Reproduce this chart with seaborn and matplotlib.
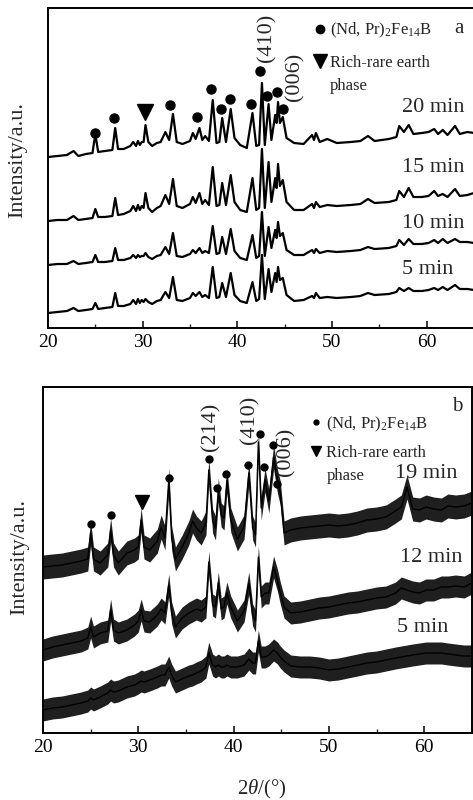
import numpy as np
import pandas as pd
import matplotlib
matplotlib.use("Agg")
import matplotlib.pyplot as plt
from matplotlib.lines import Line2D
from matplotlib.ticker import MultipleLocator
import seaborn as sns

# ---- panel a: XRD patterns, vertices ----
A_X = [20.0, 21.0, 22.0, 22.7, 23.2, 24.0, 24.7, 25.0, 25.3, 26.0, 26.8, 27.1, 27.4, 28.0,
       28.7, 29.0, 29.3, 29.5, 29.7, 29.9, 30.1, 30.3, 30.6, 31.0, 31.5, 31.9, 32.4, 32.8,
       33.2, 33.6, 34.2, 35.0, 35.3, 35.6, 36.0, 36.3, 36.6, 37.0, 37.4, 37.8, 38.1, 38.4,
       38.8, 39.3, 39.7, 40.3, 41.0, 41.6, 42.0, 42.3, 42.6, 42.9, 43.3, 43.6, 44.0, 44.15,
       44.3, 44.5, 44.8, 45.2, 46.0, 47.0, 47.9, 48.1, 48.3, 48.7, 49.5, 50.5, 52.0, 53.0,
       53.8, 54.5, 56.0, 56.8, 57.1, 57.6, 58.1, 58.6, 59.5, 60.2, 60.8, 61.2, 61.7, 62.2,
       63.0, 63.5, 64.3, 65.0]

A_20MIN = [171, 172, 173, 177, 172, 174, 175, 194, 176, 177, 178, 200, 179, 179,
           182, 186, 182, 187, 183, 186, 186, 203, 186, 182, 185, 186, 196, 188,
           214, 186, 184, 187, 195, 189, 200, 188, 192, 187, 228, 185, 186, 210,
           186, 219, 190, 183, 180, 215, 182, 183, 245, 183, 224, 188, 213, 205,
           226, 205, 211, 190, 185, 184, 193, 188, 195, 186, 189, 185, 186, 187,
           192, 187, 189, 191, 202, 196, 203, 194, 195, 196, 199, 194, 198, 193,
           202, 194, 196, 195]
A_15MIN = [107, 108, 108, 112, 108, 109, 110, 119, 111, 111, 112, 130, 113, 114,
           117, 122, 117, 123, 118, 122, 120, 135, 120, 116, 120, 122, 133, 124,
           149, 122, 120, 124, 131, 125, 135, 124, 128, 123, 161, 122, 123, 145,
           123, 153, 126, 118, 116, 150, 118, 120, 179, 120, 166, 126, 150, 140,
           164, 142, 148, 126, 118, 118, 124, 120, 126, 121, 123, 122, 123, 124,
           129, 125, 126, 128, 137, 131, 140, 131, 131, 132, 137, 132, 134, 131,
           139, 132, 133, 135]
A_10MIN = [63, 64, 64, 67, 64, 65, 66, 73, 66, 66, 67, 80, 68, 68,
           70, 73, 70, 73, 71, 72, 72, 75, 71, 69, 72, 73, 81, 74,
           95, 72, 71, 74, 78, 75, 80, 75, 77, 75, 102, 74, 75, 91,
           74, 99, 77, 70, 68, 93, 70, 72, 116, 72, 101, 80, 98, 90,
           106, 92, 95, 78, 73, 73, 78, 75, 79, 75, 77, 76, 77, 78,
           81, 79, 80, 82, 88, 83, 89, 84, 84, 85, 88, 85, 89, 85,
           89, 86, 86, 85]
A_5MIN = [15, 16, 17, 20, 17, 18, 19, 25, 19, 20, 21, 35, 22, 22,
          24, 28, 24, 29, 25, 28, 26, 29, 26, 24, 27, 28, 36, 30,
          51, 28, 27, 30, 35, 32, 36, 31, 33, 30, 61, 30, 31, 45,
          31, 55, 33, 27, 25, 46, 27, 29, 73, 29, 59, 36, 55, 46,
          61, 48, 50, 33, 27, 28, 32, 30, 35, 30, 31, 30, 31, 32,
          35, 33, 34, 36, 40, 37, 40, 37, 37, 38, 40, 38, 41, 38,
          43, 39, 39, 38]
A_LABELS = ["20 min", "15 min", "10 min", "5 min"]
A_LABEL_Y = [220, 161, 105, 58]

A_DOT_X = [25.0, 27.0, 32.9, 35.7, 37.2, 38.3, 39.2, 41.4, 42.4, 43.1, 44.2, 44.8]
A_DOT_Y = [195, 210, 223, 211, 239, 219, 229, 224, 257, 232, 236, 219]
A_TRI_X = [30.2]
A_TRI_Y = [216]
A_HKL = ["(410)", "(006)"]
A_HKL_X = [43.1, 46.1]
A_HKL_Y = [290, 251]

# ---- panel b: noisy patterns (centre line) ----
B_X = [20.0, 21.0, 22.0, 23.0, 24.0, 24.7, 25.0, 25.3, 26.0, 26.8, 27.1, 27.4, 27.9, 28.8,
       29.6, 30.0, 30.3, 30.6, 31.2, 32.0, 32.4, 32.8, 33.2, 33.5, 33.9, 34.6, 35.3, 35.7,
       36.1, 36.6, 37.1, 37.4, 37.8, 38.1, 38.4, 38.7, 39.0, 39.3, 39.7, 40.4, 41.1, 41.6,
       42.0, 42.3, 42.6, 42.9, 43.3, 43.7, 44.2, 44.6, 44.9, 45.3, 46.0, 47.0, 48.0, 49.0,
       50.0, 51.0, 52.0, 53.0, 54.0, 55.0, 56.0, 57.0, 57.6, 58.2, 58.8, 59.5, 60.2, 61.0,
       61.8, 62.5, 63.3, 64.2, 65.0]
B_19MIN = [166, 167, 168, 170, 172, 174, 200, 174, 170, 178, 203, 178, 170, 180,
           183, 186, 213, 186, 183, 192, 206, 195, 253, 195, 174, 186, 200, 212,
           205, 200, 210, 263, 212, 205, 243, 218, 215, 253, 213, 194, 206, 260,
           205, 198, 291, 225, 253, 232, 276, 252, 240, 200, 203, 205, 206, 207,
           208, 207, 208, 210, 213, 214, 216, 222, 226, 246, 224, 223, 226, 224,
           223, 227, 226, 227, 230]
B_12MIN = [83, 86, 88, 90, 92, 95, 106, 96, 100, 102, 123, 103, 100, 103,
           108, 112, 123, 112, 111, 118, 124, 120, 148, 120, 106, 115, 120, 122,
           124, 122, 126, 171, 128, 126, 150, 124, 126, 140, 126, 112, 122, 150,
           118, 112, 176, 136, 140, 140, 166, 153, 140, 126, 120, 121, 123, 125,
           126, 128, 130, 131, 133, 135, 136, 140, 145, 143, 141, 140, 143, 143,
           146, 146, 147, 146, 150]
B_5MIN = [23, 25, 26, 28, 30, 32, 35, 33, 36, 40, 43, 41, 42, 46,
          48, 50, 52, 51, 53, 56, 58, 58, 66, 58, 51, 54, 57, 58,
          60, 62, 66, 80, 68, 66, 68, 66, 66, 68, 66, 66, 68, 74,
          70, 70, 92, 76, 76, 78, 83, 80, 76, 72, 67, 66, 66, 65,
          63, 64, 66, 68, 70, 71, 73, 75, 76, 77, 78, 79, 80, 80,
          80, 79, 78, 77, 77]
B_NOISE = [12, 11, 11]
B_LABELS = ["19 min", "12 min", "5 min"]
B_LABEL_X = [56.9, 57.5, 57.1]
B_LABEL_Y = [259, 176, 105]

B_DOT_X = [25.0, 27.1, 33.2, 37.4, 38.3, 39.2, 41.5, 42.8, 43.2, 44.1, 44.6]
B_DOT_Y = [209, 218, 255, 274, 245, 259, 268, 299, 266, 288, 249]
B_TRI_X = [30.4]
B_TRI_Y = [231]
B_HKL = ["(214)", "(410)", "(006)"]
B_HKL_X = [37.6, 41.7, 45.5]
B_HKL_Y = [306, 313, 281]

PHASE_LABEL = "(Nd, Pr)$_2$Fe$_{14}$B"
RICH_LABELS = ["Rich-rare earth", "phase"]

sns.set_style("ticks")
plt.rcParams["font.family"] = ["Liberation Serif", "DejaVu Serif"]
plt.rcParams["mathtext.fontset"] = "custom"
plt.rcParams["mathtext.rm"] = "Liberation Serif"
plt.rcParams["mathtext.it"] = "Liberation Serif:italic"

fig = plt.figure(figsize=(4.73, 8), dpi=100)
ax_a = fig.add_axes([48 / 473, 0.59, 426 / 473, 0.40])
ax_b = fig.add_axes([43 / 473, 0.08375, 428.8 / 473, 0.4325])


def style_axis(ax, ymax):
    ax.set_xlim(20, 65)
    ax.set_ylim(0, ymax)
    ax.set_yticks([])
    ax.xaxis.set_major_locator(MultipleLocator(10))
    ax.xaxis.set_minor_locator(MultipleLocator(5))
    ax.tick_params(axis="x", which="major", direction="in", length=5, width=1.1,
                   labelsize=14, pad=4, colors="black")
    ax.tick_params(axis="x", which="minor", direction="in", length=3, width=1.0)
    for sp in ax.spines.values():
        sp.set_visible(True)
        sp.set_linewidth(1.4)
        sp.set_color("black")
    ax.set_xlabel("")
    ax.set_ylabel("")


def add_legend(ax, dot_ms, tri_ms, x0, y_dot, y_tri):
    kw = dict(loc="upper left", frameon=False, fontsize=12, handlelength=0.9,
              handletextpad=0.15, labelspacing=0.42, borderpad=0, borderaxespad=0)
    dot = [Line2D([], [], marker="o", ls="none", color="black", ms=dot_ms)]
    leg1 = ax.legend(dot, [PHASE_LABEL], bbox_to_anchor=(x0, y_dot), **kw)
    ax.add_artist(leg1)
    tri = [Line2D([], [], marker="v", ls="none", color="black", ms=tri_ms),
           Line2D([], [], ls="none")]
    ax.legend(tri, RICH_LABELS, bbox_to_anchor=(x0, y_tri), **kw)


# panel a
df_a = pd.DataFrame({"two_theta": A_X * 4,
                     "intensity": A_20MIN + A_15MIN + A_10MIN + A_5MIN,
                     "sample": np.repeat(A_LABELS, len(A_X))})
sns.lineplot(data=df_a, x="two_theta", y="intensity", units="sample", estimator=None,
             sort=False, color="black", lw=1.6, ax=ax_a)
for lab, ly in zip(A_LABELS, A_LABEL_Y):
    ax_a.text(57.4, ly, lab, fontsize=16, ha="left", va="center")
ax_a.plot(A_DOT_X, A_DOT_Y, "o", color="black", ms=6.5, ls="none")
ax_a.plot(A_TRI_X, A_TRI_Y, "v", color="black", ms=11, ls="none")
for t, hx, hy in zip(A_HKL, A_HKL_X, A_HKL_Y):
    ax_a.text(hx, hy, t, rotation=90, fontsize=16, ha="center", va="center")
ax_a.text(0.965, 0.937, "a", transform=ax_a.transAxes, fontsize=15, ha="center", va="center")
add_legend(ax_a, 6, 10, 0.62, 0.959, 0.853)
style_axis(ax_a, 320)

# panel b
for ys, w in zip([B_19MIN, B_12MIN, B_5MIN], B_NOISE):
    y = np.asarray(ys, dtype=float)
    ax_b.fill_between(B_X, y - w, y + w, color="black", alpha=0.88, lw=0)
    sns.lineplot(x=B_X, y=ys, estimator=None, sort=False, color="black", lw=1.0, ax=ax_b)
for lab, lx, ly in zip(B_LABELS, B_LABEL_X, B_LABEL_Y):
    ax_b.text(lx, ly, lab, fontsize=16, ha="left", va="center")
ax_b.plot(B_DOT_X, B_DOT_Y, "o", color="black", ms=5, ls="none")
ax_b.plot(B_TRI_X, B_TRI_Y, "v", color="black", ms=10, ls="none")
for t, hx, hy in zip(B_HKL, B_HKL_X, B_HKL_Y):
    ax_b.text(hx, hy, t, rotation=90, fontsize=16, ha="center", va="center")
ax_b.text(0.965, 0.945, "b", transform=ax_b.transAxes, fontsize=15, ha="center", va="center")
add_legend(ax_b, 3.5, 7, 0.62, 0.92, 0.832)
style_axis(ax_b, 346)

fig.text(18 / 473, 1 - 160 / 800, "Intensity/a.u.", rotation=90, fontsize=16,
         ha="center", va="center")
fig.text(20 / 473, 1 - 557 / 800, "Intensity/a.u.", rotation=90, fontsize=16,
         ha="center", va="center")
fig.text(262 / 473, 1 - 789 / 800, "2$\\it{\\theta}$/(°)", fontsize=15,
         ha="center", va="center")

fig.savefig("out.png", dpi=100)
